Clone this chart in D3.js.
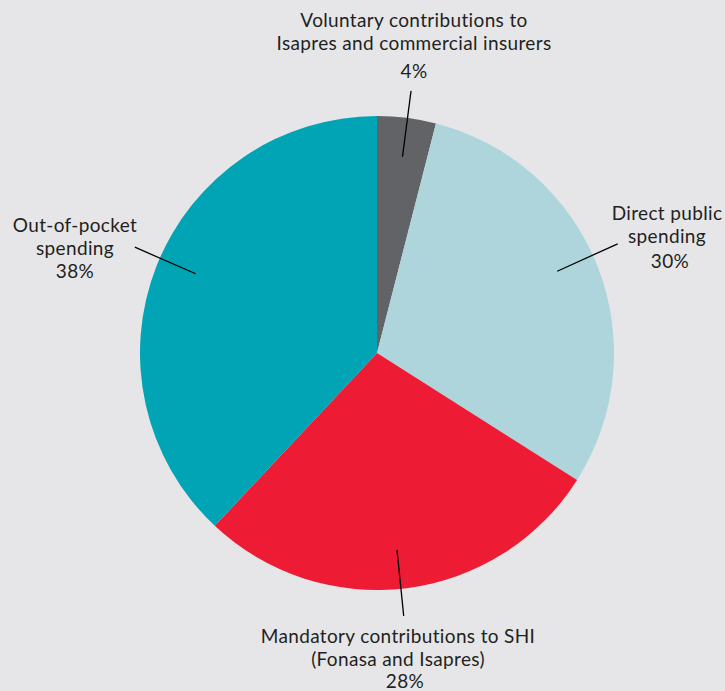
<!DOCTYPE html>
<html>
<head>
<meta charset="utf-8">
<script src="https://cdn.jsdelivr.net/npm/d3@7"></script>
<style>
  html, body { margin: 0; padding: 0; background: #e6e6e8; }
  svg { display: block; }
  text { font-family: Lato, "Open Sans", sans-serif; fill: #231f20; font-size: 19px; letter-spacing: 0.35px; }
</style>
</head>
<body>
<svg id="chart" width="725" height="691"></svg>
<script>
// Health spending by source (share of total)
const categories = [
  "Voluntary contributions to Isapres and commercial insurers",
  "Direct public spending",
  "Mandatory contributions to SHI (Fonasa and Isapres)",
  "Out-of-pocket spending"
];
const values = [4, 30, 28, 38];
const labelLines = [
  ["Voluntary contributions to", "Isapres and commercial insurers"],
  ["Direct public", "spending"],
  ["Mandatory contributions to SHI", "(Fonasa and Isapres)"],
  ["Out-of-pocket", "spending"]
];
const colors = ["#616366", "#aed5dc", "#ee1b34", "#00a4b4"];

const W = 725, H = 691;
const cx = 377, cy = 353, R = 237;

const svg = d3.select("#chart");
const g = svg.append("g").attr("transform", `translate(${cx},${cy})`);

const pie = d3.pie().sort(null).value(d => d)(values);
const arc = d3.arc().innerRadius(0).outerRadius(R);

g.selectAll("path.slice")
  .data(pie)
  .join("path")
  .attr("class", "slice")
  .attr("d", arc)
  .attr("fill", (d, i) => colors[i]);

// Leader lines run radially from inside each slice to just past the rim,
// nudged slightly off the slice's mid-angle (degrees) toward its label.
const leaderInner = 0.835, leaderOuter = 1.115;
const leaderNudge = [0.2, -2.8, 1.4, 2.0];

// Label blocks: x centre, first-line baseline, percentage baseline
const labelPos = [
  { x: 414, y: 27, px: 414, pct: 78 },
  { x: 667, y: 220, px: 670, pct: 268 },
  { x: 398, y: 643, px: 405, pct: 688 },
  { x: 75, y: 232, px: 75, pct: 278 }
];

pie.forEach((d, i) => {
  const a = (d.startAngle + d.endAngle) / 2 + leaderNudge[i] * Math.PI / 180;
  const p = r => [r * R * Math.sin(a), -r * R * Math.cos(a)];
  const [x1, y1] = p(leaderInner);
  const [x2, y2] = p(leaderOuter);
  g.append("line")
    .attr("x1", x1).attr("y1", y1)
    .attr("x2", x2).attr("y2", y2)
    .attr("stroke", "#000").attr("stroke-width", 1.3);

  const lp = labelPos[i];
  const t = svg.append("text").attr("text-anchor", "middle");
  labelLines[i].forEach((line, j) => {
    t.append("tspan").attr("x", lp.x).attr("y", lp.y + j * 22.5).text(line);
  });
  svg.append("text")
    .attr("text-anchor", "middle")
    .attr("x", lp.px)
    .attr("y", lp.pct)
    .text(d3.format(".0f")(d.data) + "%");
});
</script>
</body>
</html>
